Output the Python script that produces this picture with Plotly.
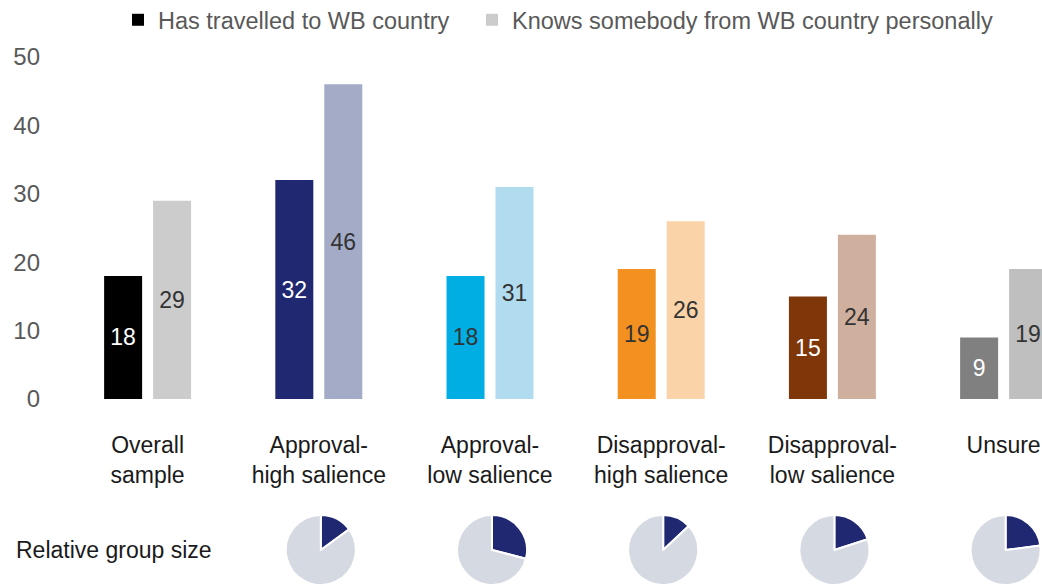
import plotly.graph_objects as go

categories = ["Overall<br>sample", "Approval-<br>high salience", "Approval-<br>low salience",
              "Disapproval-<br>high salience", "Disapproval-<br>low salience", "Unsure"]
travelled = [18, 32, 18, 19, 15, 9]
knows = [29, 46, 31, 26, 24, 19]
travelled_colors = ["#000000", "#1f2870", "#00aee3", "#f39120", "#7f3608", "#808080"]
knows_colors = ["#cccccc", "#a3abc7", "#b1dcf0", "#fbd3a9", "#cfaf9e", "#bfbfbf"]
travelled_text_colors = ["#ffffff", "#ffffff", "#333333", "#333333", "#ffffff", "#ffffff"]

# share of sample per group (pie charts, overall has none)
group_share = [15, 29, 13, 20, 23]
pie_names = categories[1:]

FONT = "Liberation Sans, Arial, sans-serif"
W, H = 1042, 586
L, R, T, B = 62, 0, 44, 0
plot_w = W - L - R
plot_h = H - T - B
bar_bottom = 399
px_per_unit = 6.84   # pixels per y unit
px_per_cat = 171.2   # pixels per category
x0 = -0.5

fig = go.Figure()

x = list(range(len(categories)))
fig.add_trace(go.Bar(
    x=x, y=travelled, name="Has travelled to WB country",
    marker=dict(color=travelled_colors, line=dict(width=0)),
    text=travelled, textposition="inside", insidetextanchor="middle",
    textfont=dict(color=travelled_text_colors, size=23, family=FONT),
    textangle=0, hoverinfo="skip", legend="legend",
))
fig.add_trace(go.Bar(
    x=x, y=knows, name="Knows somebody from WB country personally",
    marker=dict(color=knows_colors, line=dict(width=0)),
    text=knows, textposition="inside", insidetextanchor="middle",
    textfont=dict(color="#333333", size=23, family=FONT),
    textangle=0, hoverinfo="skip", legend="legend2",
))

# small pies under each group, centred under the bar pairs
for i, share in enumerate(group_share):
    cx = L + (i + 1 - x0) * px_per_cat + 2
    cy = 550
    r = 35
    fig.add_trace(go.Pie(
        values=[share, 100 - share], labels=["group", "rest"], name=pie_names[i],
        marker=dict(colors=["#1f2870", "#d5d9e2"], line=dict(color="#ffffff", width=2)),
        direction="clockwise", sort=False, rotation=0,
        textinfo="none", hoverinfo="skip", showlegend=False,
        domain=dict(x=[(cx - r - L) / plot_w, (cx + r - L) / plot_w],
                    y=[(H - cy - r) / plot_h, (H - cy + r) / plot_h]),
    ))

fig.add_annotation(
    text="Relative group size", xref="paper", yref="paper",
    x=(14 - L) / plot_w, y=(H - 550) / plot_h, xanchor="left", yanchor="middle",
    showarrow=False, font=dict(size=23, color="#1a1a1a", family=FONT),
)

legend_style = dict(
    orientation="h", xref="paper", yref="paper", xanchor="left",
    y=1 + (T + 2) / plot_h, yanchor="top",
    font=dict(size=23.5, color="#595959"), itemwidth=30,
)

y_dom0 = (H - bar_bottom) / plot_h
fig.update_layout(
    width=W, height=H,
    margin=dict(l=L, r=R, t=T, b=B, autoexpand=False),
    paper_bgcolor="white", plot_bgcolor="white",
    font=dict(family=FONT, size=23, color="#595959"),
    barmode="group", bargap=0.428, bargroupgap=0.224,
    xaxis=dict(
        range=[x0, x0 + plot_w / px_per_cat],
        tickvals=x, ticktext=categories,
        tickfont=dict(size=23, color="#1a1a1a"),
        showgrid=False, zeroline=False, showline=False, ticks="",
        ticklabelstandoff=30, automargin=False,
    ),
    yaxis=dict(
        domain=[y_dom0, 1],
        range=[0, (bar_bottom - T) / px_per_unit],
        tickvals=[0, 10, 20, 30, 40, 50],
        tickfont=dict(size=24, color="#595959"),
        showgrid=False, zeroline=False, showline=False, ticks="",
        ticklabelstandoff=21, automargin=False,
    ),
    legend=dict(x=(118 - L) / plot_w, **legend_style),
    legend2=dict(x=(472 - L) / plot_w, **legend_style),
    showlegend=True,
)

fig.write_html("out.html", config={"displayModeBar": False},
               post_script="document.body.style.margin='0';")
